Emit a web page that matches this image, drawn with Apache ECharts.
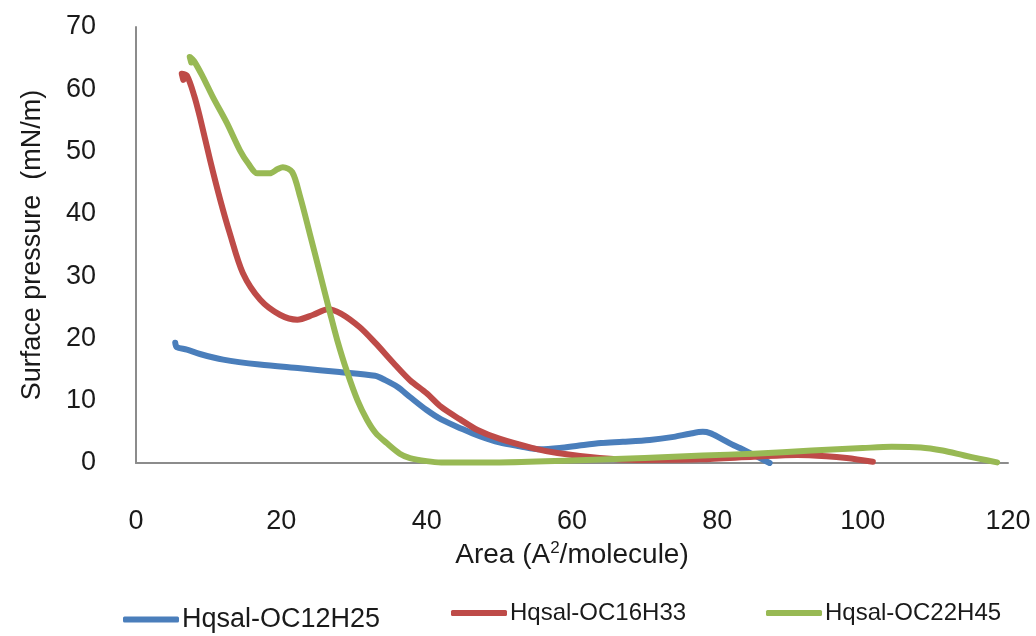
<!DOCTYPE html>
<html>
<head>
<meta charset="utf-8">
<script src="https://cdn.jsdelivr.net/npm/echarts@6/dist/echarts.min.js"></script>
<style>
  html, body { margin: 0; padding: 0; background: #fff; }
  #chart { width: 1036px; height: 636px; }
</style>
</head>
<body>
<div id="chart"></div>
<script>
// series names
const seriesNames = ['Hqsal-OC12H25', 'Hqsal-OC16H33', 'Hqsal-OC22H45']

// Hqsal-OC12H25 (blue)
const c12Area = [5.4, 5.6, 7, 8.8, 12, 17, 22.6, 28, 32.9, 34.3, 36, 37.7, 40, 42, 45, 47.3, 50, 52.8, 55.6, 58.3, 61, 64, 67, 70.7, 74, 76.2, 78, 79, 80.4, 82, 83.1, 85, 86, 87.2]
const c12Pressure = [19.3, 18.6, 18.2, 17.5, 16.6, 15.8, 15.2, 14.6, 14.0, 13.3, 12.2, 10.6, 8.5, 7.0, 5.4, 4.3, 3.3, 2.7, 2.2, 2.4, 2.8, 3.2, 3.4, 3.7, 4.2, 4.7, 5.0, 4.8, 4.0, 3.0, 2.4, 1.3, 0.7, 0]

// Hqsal-OC16H33 (red)
const c16Area = [6.5, 6.3, 7, 8, 8.8, 10.2, 11.6, 12.9, 14.7, 17.1, 19.8, 22.2, 24.4, 26.4, 28.2, 30.8, 33, 35.4, 37.7, 40, 42, 44.6, 47, 50, 54.6, 58, 63.8, 69, 77.6, 85, 91, 95, 97.8, 101.4]
const c16Pressure = [61.5, 62.5, 62.2, 59, 55.5, 48.6, 42.2, 36.9, 30.5, 26.2, 23.8, 23.0, 23.8, 24.7, 24.0, 21.8, 19.2, 16.1, 13.3, 11.2, 9.0, 7.0, 5.3, 3.9, 2.4, 1.6, 0.8, 0.5, 0.6, 1.0, 1.3, 1.1, 0.8, 0.2]

// Hqsal-OC22H45 (green)
const c22Area = [7.6, 7.4, 8, 9.2, 10.6, 12.5, 14.3, 15.5, 16.7, 18.4, 19.5, 20.2, 21.5, 22.6, 23.9, 25.3, 26.7, 27.7, 29, 30.5, 31.8, 33, 34.5, 36.3, 37.7, 40, 42, 50, 60, 70, 78, 85, 93, 100, 104, 108, 111, 114, 116, 118.5]
const c22Pressure = [64.3, 65.2, 64.5, 62.0, 58.7, 54.6, 50.2, 48.0, 46.5, 46.5, 47.2, 47.5, 46.7, 42.7, 36.9, 30.5, 24.1, 19.7, 14.8, 10.0, 6.9, 4.8, 3.2, 1.5, 0.8, 0.3, 0.1, 0.1, 0.4, 0.8, 1.2, 1.5, 2.0, 2.4, 2.6, 2.5, 2.0, 1.2, 0.7, 0.1]

const colors = ['#4a7ebb', '#be4b48', '#98b954']

function zip(xs, ys) {
  return xs.map((x, i) => [x, ys[i]])
}

const chart = echarts.init(document.getElementById('chart'))

const fontFamily = 'Liberation Sans, Arial, sans-serif'
const textColor = '#1a1a1a'

function makeLine(name, data, color) {
  return {
    name: name,
    type: 'line',
    data: data,
    smooth: 0.3,
    showSymbol: false,
    symbol: 'none',
    itemStyle: { color: color },
    lineStyle: { width: 6, color: color, cap: 'round', join: 'round' },
  }
}

function makeLegend(name, left, top, size) {
  return {
    data: [name],
    left: left,
    top: top,
    icon: 'roundRect',
    itemWidth: 56,
    itemHeight: 6,
    itemGap: 4,
    textStyle: { fontSize: size, color: textColor, fontFamily: fontFamily, padding: [0, 0, 0, -2] },
  }
}

chart.setOption({
  animation: false,
  backgroundColor: '#fff',
  grid: { left: 136, right: 28, top: 27, bottom: 173 },
  legend: [
    makeLegend(seriesNames[0], 118, 601, 27),
    makeLegend(seriesNames[1], 446, 596, 24),
    makeLegend(seriesNames[2], 761, 596, 24),
  ],
  xAxis: {
    type: 'value',
    min: 0,
    max: 120,
    interval: 20,
    name: '{a|Area (A}{s|2}{a|/molecule)}',
    nameLocation: 'middle',
    nameGap: 76,
    nameTextStyle: {
      rich: {
        a: { fontSize: 28, color: textColor, fontFamily: fontFamily },
        s: { fontSize: 17, color: textColor, fontFamily: fontFamily, verticalAlign: 'top', padding: [0, 0, 14, 0] },
      },
    },
    axisLine: { lineStyle: { color: '#8c8c8c', width: 2 } },
    axisTick: { show: false },
    splitLine: { show: false },
    axisLabel: { margin: 45, fontSize: 27, color: textColor, fontFamily: fontFamily },
  },
  yAxis: {
    type: 'value',
    min: 0,
    max: 70,
    interval: 10,
    name: 'Surface pressure  (mN/m)',
    nameLocation: 'middle',
    nameGap: 90,
    nameTextStyle: { fontSize: 27, color: textColor, fontFamily: fontFamily },
    axisLine: { show: true, lineStyle: { color: '#8c8c8c', width: 2 } },
    axisTick: { show: false },
    splitLine: { show: false },
    axisLabel: { margin: 40, fontSize: 27, color: textColor, fontFamily: fontFamily },
  },
  series: [
    makeLine(seriesNames[0], zip(c12Area, c12Pressure), colors[0]),
    makeLine(seriesNames[1], zip(c16Area, c16Pressure), colors[1]),
    makeLine(seriesNames[2], zip(c22Area, c22Pressure), colors[2]),
  ],
})

window.addEventListener('resize', () => chart.resize())
</script>
</body>
</html>
